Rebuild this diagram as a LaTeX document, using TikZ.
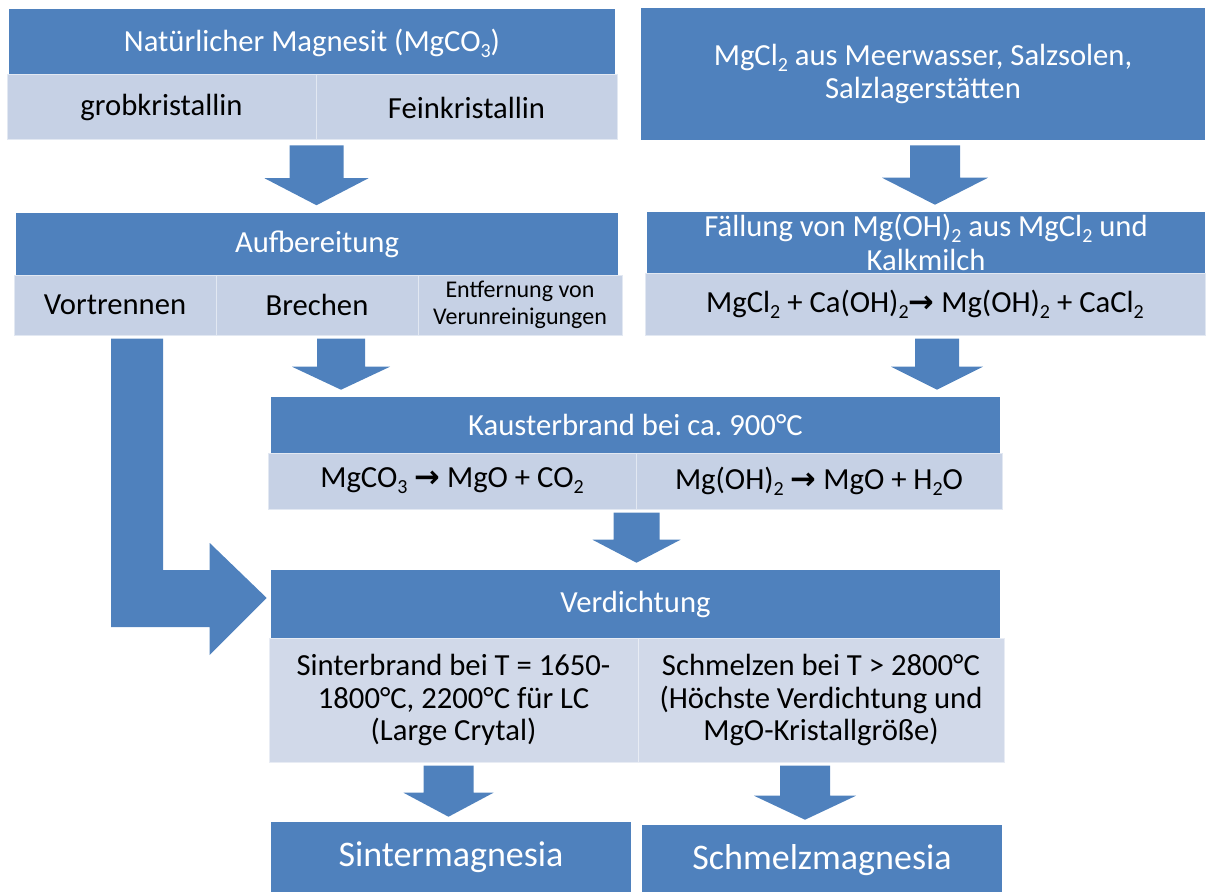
\documentclass[tikz,border=0pt]{standalone}
\usepackage{fontspec}
\setmainfont{Carlito}
\newfontfamily\djv{DejaVu Sans}
\usetikzlibrary{calc}
\definecolor{dk}{HTML}{4F81BD}
\definecolor{lt}{HTML}{C6D1E5}
\definecolor{ltb}{HTML}{D1D9E9}
\newcommand{\ssub}[1]{\raisebox{-0.42ex}{\fontsize{15}{15}\selectfont #1}}
\newcommand{\rarr}{{\djv\bfseries →}}
\newcommand{\barrow}[5]{\fill[arr] ($(#4)+(-#1,0)$) -- ($(#4)+(#1,0)$) -- ($(#5)+(#1,-#3)$) -- ($(#5)+(#2,-#3)$) -- (#5) -- ($(#5)+(-#2,-#3)$) -- ($(#5)+(-#1,-#3)$) -- cycle;}
\begin{document}
\begin{tikzpicture}[x=0.75pt,y=-0.75pt,
  sz/.style 2 args={minimum width=#1*0.75pt, minimum height=#2*0.75pt},
  body/.style={font=\fontsize{23}{24.5}\selectfont},
  dark/.style={fill=dk, text=white, inner sep=0pt, align=center, body},
  light/.style={fill=lt, draw=lt!50!white, line width=0.75pt, text=black, inner sep=0pt, align=center, body},
  lightb/.style={light, fill=ltb, draw=ltb!50!white},
  arr/.style={fill=dk}]
\useasboundingbox (0,0) rectangle (1208,892);
% row 1
\node[dark,sz={606}{67}] (A) at (312,43) {Natürlicher Magnesit (MgCO\ssub{3})};
\node[light,sz={309}{65}] (A1) at (161.5,107.5) {grobkristallin};
\node[light,sz={301}{65}] (A2) at (466.5,107.5) {Feinkristallin};
\node[dark,sz={564}{132}] (B) at (923,74) {MgCl\ssub{2} aus Meerwasser, Salzsolen,\\Salzlagerstätten};
% row 2
\node[dark,sz={602}{63}] (C) at (317,244) {Aufbereitung};
\node[light,sz={202}{60}] (C1) at (115,305) {Vortrennen};
\node[light,sz={202}{60}] (C2) at (317,305) {Brechen};
\node[light,sz={204}{60},font=\fontsize{18}{20}\selectfont] (C3) at (520,305) {Entfernung von\\Verunreinigungen};
\node[dark,sz={558}{61},font=\fontsize{23}{25.5}\selectfont] (D) at (926,242.5) {Fällung von Mg(OH)\ssub{2} aus MgCl\ssub{2} und\\Kalkmilch};
\node[light,sz={560}{62}] (D1) at (925,304) {MgCl\ssub{2} + Ca(OH)\ssub{2}\rarr{} Mg(OH)\ssub{2} + CaCl\ssub{2}};
% row 3
\node[dark,sz={729}{56}] (E) at (635.5,425) {Kausterbrand bei ca.\ 900°C};
\node[light,sz={368}{56}] (E1) at (452,481) {MgCO\ssub{3} \rarr{} MgO + CO\ssub{2}};
\node[light,sz={366}{56}] (E2) at (819,481) {Mg(OH)\ssub{2} \rarr{} MgO + H\ssub{2}O};
% row 4
\node[dark,sz={729}{68}] (F) at (635.5,604) {Verdichtung};
\node[lightb,sz={369}{124}] (F1) at (453.5,700) {Sinterbrand bei T = 1650-\\1800°C, 2200°C für LC\\(Large Crytal)};
\node[lightb,sz={366}{124}] (F2) at (821,700) {Schmelzen bei T > 2800°C\\(Höchste Verdichtung und\\MgO-Kristallgröße)};
% row 5
\node[dark,sz={360}{70},font=\fontsize{27}{30}\selectfont] (G) at (451,857) {Sintermagnesia};
\node[dark,sz={360}{70},font=\fontsize{27}{30}\selectfont] (H) at (822,860) {Schmelzmagnesia};
% arrow coordinates
\coordinate (a1s) at ($(A1.south east)+(0,5)$);
\coordinate (a1t) at ($(a1s |- C.north)+(0,-7)$);
\coordinate (a2s) at ($(B.south)+(12,5)$);
\coordinate (a2t) at ($(a2s |- D.north)+(0,-7)$);
\coordinate (a3s) at ($(C2.south)+(24,3)$);
\coordinate (a3t) at ($(a3s |- E.north)+(0,-7)$);
\coordinate (a4s) at ($(D1.south)+(12,3)$);
\coordinate (a4t) at ($(a4s |- E.north)+(0,-7)$);
\coordinate (a5s) at ($(E1.south east)+(0,3)$);
\coordinate (a5t) at ($(a5s |- F.north)+(0,-7)$);
\coordinate (a6s) at ($(F1.south)+(-5,3)$);
\coordinate (a6t) at ($(a6s |- G.north)+(0,-5)$);
\coordinate (a7s) at ($(F2.south)+(-16,3)$);
\coordinate (a7t) at ($(a7s |- H.north)+(0,-5)$);
\barrow{27}{52}{27}{a1s}{a1t}
\barrow{25}{53}{27}{a2s}{a2t}
\barrow{24}{49}{23}{a3s}{a3t}
\barrow{22}{46}{23}{a4s}{a4t}
\barrow{23}{44}{23}{a5s}{a5t}
\barrow{25}{45}{24}{a6s}{a6t}
\barrow{25}{51}{24}{a7s}{a7t}
% L-shaped arrow
\coordinate (Ls) at ($(C1.south)+(22,3)$);
\coordinate (Lt) at ($(F.west)+(-4,-6)$);
\fill[arr] ($(Ls)+(-26,0)$) -- ($(Ls)+(26,0)$) -- ($(Ls |- Lt)+(26,-28)$) -- ($(Lt)+(-57,-28)$) -- ($(Lt)+(-57,-55)$) -- (Lt) -- ($(Lt)+(-57,57)$) -- ($(Lt)+(-57,29)$) -- ($(Ls |- Lt)+(-26,29)$) -- cycle;
\end{tikzpicture}
\end{document}
